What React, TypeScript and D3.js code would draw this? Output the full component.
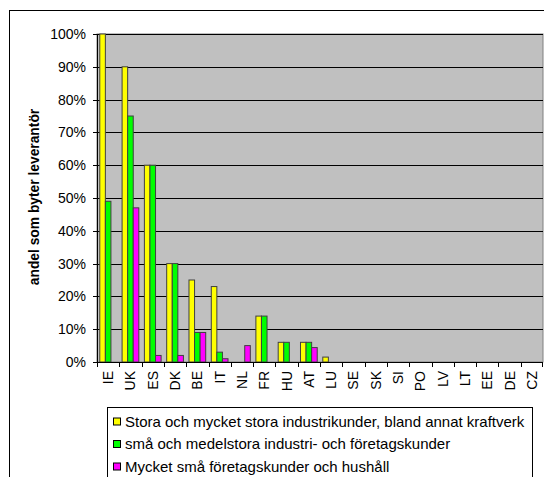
import React from "react";
import * as d3 from "d3";

const categories = ["IE","UK","ES","DK","BE","IT","NL","FR","HU","AT","LU","SE","SK","SI","PO","LV","LT","EE","DE","CZ"];
const seriesNames = [
  "Stora och mycket stora industrikunder, bland annat kraftverk",
  "små och medelstora industri- och företagskunder",
  "Mycket små företagskunder och hushåll",
];
const seriesColors = ["#FFFF00", "#00FF00", "#FF00FF"];
const largeValues: (number | null)[] = [100, 90, 60, 30, 25, 23, null, 14, 6, 6, 1.5, null, null, null, null, null, null, null, null, null];
const mediumValues: (number | null)[] = [49, 75, 60, 30, 9, 3, null, 14, 6, 6, null, null, null, null, null, null, null, null, null, null];
const smallValues: (number | null)[] = [null, 47, 2, 2, 9, 1, 5, null, null, 4.4, null, null, null, null, null, null, null, null, null, null];
const yTicks = [0, 10, 20, 30, 40, 50, 60, 70, 80, 90, 100];
const yTitle = "andel som byter leverantör";

export default function App() {
  const W = 544, H = 477;
  const left = 97, right = 543, top = 34, bottom = 362;
  const x = d3.scaleBand<string>().domain(categories).range([left, right]).paddingInner(0).paddingOuter(0);
  const inner = d3.scaleBand<number>().domain([0, 1, 2]).range([0, x.bandwidth()]).paddingInner(0).paddingOuter(0.5);
  const y = d3.scaleLinear().domain([0, 100]).range([bottom, top]);
  const series = [largeValues, mediumValues, smallValues];
  const font = "Arial, 'Liberation Sans', sans-serif";

  return (
    <svg width={W} height={H} style={{ position: "fixed", left: 0, top: 0, background: "#fff" }} fontFamily={font}>
      <rect x={9.5} y={10.5} width={W} height={H} fill="#fff" stroke="#000" strokeWidth={1} />
      <rect x={left} y={top} width={right - left} height={bottom - top} fill="#C0C0C0" stroke="#808080" strokeWidth={1} />
      {yTicks.map((t) => (
        <g key={t}>
          {t > 0 && <line x1={left} x2={right} y1={Math.round(y(t)) + 0.5} y2={Math.round(y(t)) + 0.5} stroke="#000" strokeWidth={1} />}
          <line x1={left - 4} x2={left} y1={Math.round(y(t)) + 0.5} y2={Math.round(y(t)) + 0.5} stroke="#000" />
          <text x={86} y={y(t)} dy="0.36em" textAnchor="end" fontSize={14}>{t}%</text>
        </g>
      ))}
      {series.map((vals, si) =>
        vals.map((v, ci) =>
          v == null ? null : (
            <rect
              key={si + "-" + ci}
              x={(x(categories[ci]) as number) + (inner(si) as number)}
              y={y(v)}
              width={inner.bandwidth()}
              height={bottom - y(v)}
              fill={seriesColors[si]}
              stroke="#404040"
              strokeWidth={1}
            />
          )
        )
      )}
      <line x1={left + 0.5} x2={left + 0.5} y1={top} y2={bottom} stroke="#000" />
      <line x1={left} x2={right} y1={bottom + 0.5} y2={bottom + 0.5} stroke="#000" />
      {categories.map((c) => (
        <line key={"t" + c} x1={Math.round(x(c) as number) + 0.5} x2={Math.round(x(c) as number) + 0.5} y1={bottom} y2={bottom + 5} stroke="#000" />
      ))}
      <line x1={right - 0.5} x2={right - 0.5} y1={bottom} y2={bottom + 5} stroke="#000" />
      {categories.map((c) => {
        const cx = (x(c) as number) + x.bandwidth() / 2;
        return (
          <text key={"l" + c} transform={`translate(${cx + 5},${371}) rotate(-90)`} textAnchor="end" fontSize={14}>{c}</text>
        );
      })}
      <text transform={`translate(${39},${197}) rotate(-90)`} textAnchor="middle" fontSize={13.8} fontWeight="bold">{yTitle}</text>
      <rect x={107.5} y={407.5} width={425} height={100} fill="#fff" stroke="#000" />
      {seriesNames.map((n, i) => (
        <g key={n}>
          <rect x={113.5} y={418 + i * 22.5} width={7} height={7} fill={seriesColors[i]} stroke="#000" />
          <text x={125} y={421.5 + i * 22.5} dy="0.36em" fontSize={15}>{n}</text>
        </g>
      ))}
    </svg>
  );
}
